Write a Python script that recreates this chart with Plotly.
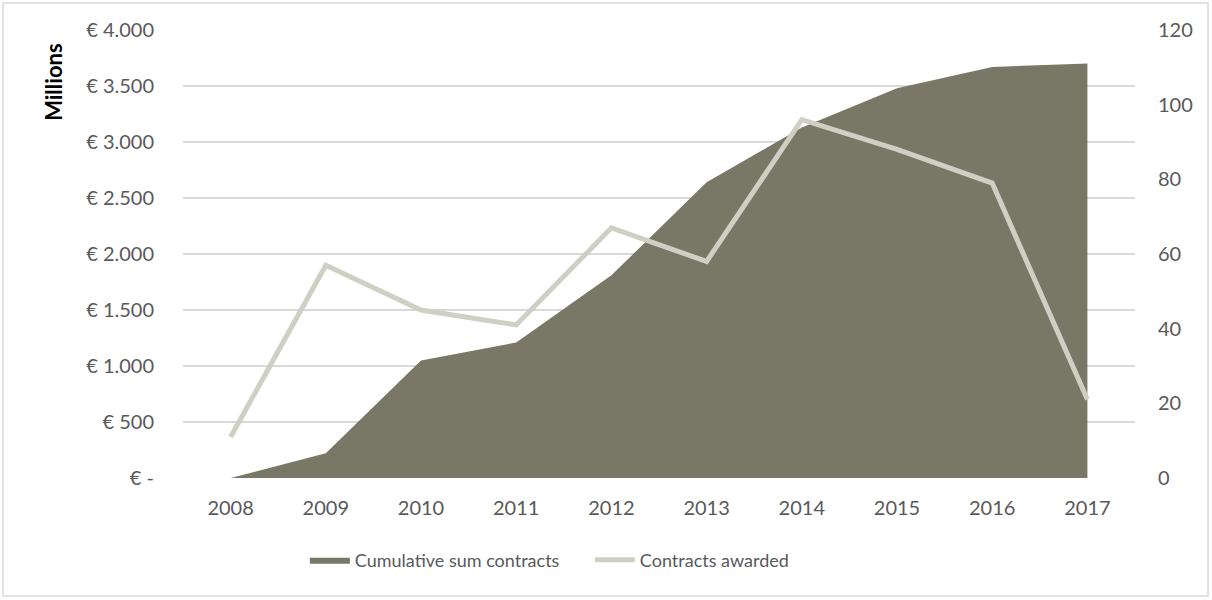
import plotly.graph_objects as go

years = ["2008", "2009", "2010", "2011", "2012", "2013", "2014", "2015", "2016", "2017"]
cumulative_sum = [0, 220, 1050, 1210, 1810, 2640, 3130, 3480, 3670, 3700]
contracts_awarded = [11, 57, 45, 41, 67, 58, 96, 88, 79, 21]

left_ticks = [0, 500, 1000, 1500, 2000, 2500, 3000, 3500, 4000]
left_labels = ["€ -", "€ 500", "€ 1.000", "€ 1.500", "€ 2.000", "€ 2.500", "€ 3.000", "€ 3.500", "€ 4.000"]
right_ticks = [0, 20, 40, 60, 80, 100, 120]

AREA = "#797866"
LINE = "#D0CFC4"
TEXT = "#595959"
FONT = "Lato"

fig = go.Figure()

fig.add_trace(go.Scatter(
    x=years, y=cumulative_sum, name="Cumulative sum contracts",
    mode="lines", fill="tozeroy", fillcolor=AREA,
    line=dict(width=0, color=AREA),
))
fig.add_trace(go.Scatter(
    x=years, y=contracts_awarded, name="Contracts awarded",
    mode="lines", yaxis="y2",
    line=dict(width=5, color=LINE),
))

# outer chart border
fig.add_shape(type="rect", xref="paper", yref="paper",
              x0=-0.189, x1=1.0767, y0=-0.2634, y1=1.0603,
              line=dict(color="#D9D9D9", width=1.5), layer="below")

# axis title sits at the top of the left axis
fig.add_annotation(text="<b>Millions</b>", xref="paper", yref="paper",
                   x=-0.1355, y=0.882, xanchor="center", yanchor="middle",
                   textangle=-90, showarrow=False,
                   font=dict(size=22, color="black", family=FONT))

fig.update_layout(
    width=1212, height=600,
    margin=dict(l=183, r=77, t=30, b=122),
    paper_bgcolor="white", plot_bgcolor="white",
    font=dict(family=FONT, size=20, color=TEXT),
    showlegend=True,
    legend=dict(orientation="h", x=0.128, xanchor="left", y=-0.183, yanchor="middle",
                font=dict(size=18, color=TEXT), itemwidth=40,
                entrywidth=230, entrywidthmode="pixels", traceorder="normal"),
    xaxis=dict(type="category", range=[-0.5, 9.5], showgrid=False, showline=False,
               ticks="outside", ticklen=12, tickcolor="white",
               tickfont=dict(size=20, color=TEXT)),
    yaxis=dict(range=[0, 4000], tickvals=left_ticks, ticktext=left_labels,
               showgrid=True, gridcolor="#D9D9D9", gridwidth=1.5,
               zeroline=False, showline=False, ticks="outside", ticklen=24,
               tickcolor="white", tickfont=dict(size=20, color=TEXT)),
    yaxis2=dict(range=[0, 120], tickvals=right_ticks, overlaying="y", side="right",
                showgrid=False, zeroline=False, showline=False, ticks="outside", ticklen=18,
                tickcolor="white", tickfont=dict(size=20, color=TEXT)),
)

# drop the default 8px page margin so the figure fills the window
fig.write_html("out.html", config={"displayModeBar": False},
               post_script="document.body.style.margin='0';")
